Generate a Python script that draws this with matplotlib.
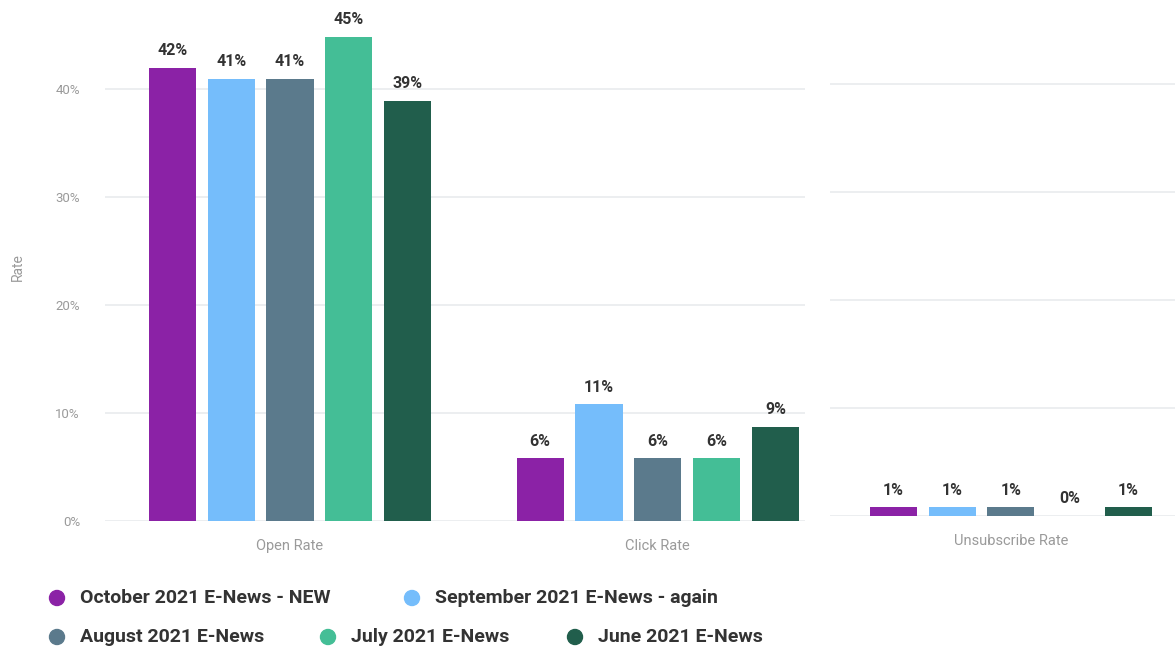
import matplotlib
matplotlib.use("Agg")
import matplotlib.pyplot as plt
import matplotlib.ticker as mticker
import numpy as np

plt.rcParams["font.family"] = ["Roboto", "DejaVu Sans"]

# data (rates in %)
series = ["October 2021 E-News - NEW", "September 2021 E-News - again",
          "August 2021 E-News", "July 2021 E-News", "June 2021 E-News"]
metrics = ["Open Rate", "Click Rate", "Unsubscribe Rate"]
open_rate = [41.9, 40.9, 40.9, 44.8, 38.9]
click_rate = [5.8, 10.8, 5.8, 5.8, 8.7]
unsub_rate = [0.8, 0.8, 0.8, 0.0, 0.8]
rate_labels = [[42, 41, 41, 45, 39], [6, 11, 6, 6, 9], [1, 1, 1, 0, 1]]
y_ticks = [0, 10, 20, 30, 40]

COLORS = ["#8b22a6", "#75bdfb", "#5b7a8c", "#44be96", "#215e4c"]
GRID = "#e9ebee"
TICK = "#9a9a9a"
DARK = "#333333"

W, H = 1175, 654
fig = plt.figure(figsize=(W / 100, H / 100), dpi=100)

# left panel (open + click), right panel (unsubscribe) is slightly offset
ax1 = fig.add_axes([105 / W, (H - 521) / H, 700 / W, 508 / H])
ax2 = fig.add_axes([830 / W, (H - 516) / H, 345 / W, 508 / H])

width = 0.128
step = 0.16
offsets = (np.arange(len(series)) - 2) * step


def draw_group(ax, xpos, values, labels):
    for i, (v, lab) in enumerate(zip(values, labels)):
        ax.bar(xpos + offsets[i], v, width, color=COLORS[i], zorder=3)
        ax.text(xpos + offsets[i], v + 0.9, f"{lab}%", ha="center", va="bottom",
                fontsize=11.5, fontweight="bold", color=DARK, zorder=4)


draw_group(ax1, 0, open_rate, rate_labels[0])
draw_group(ax1, 1, click_rate, rate_labels[1])
draw_group(ax2, 0, unsub_rate, rate_labels[2])

ax1.set_xlim(-0.503, 1.40)
ax2.set_xlim(-0.492, 0.446)
for ax in (ax1, ax2):
    ax.set_ylim(0, 47)
    ax.set_yticks(y_ticks)
    ax.grid(axis="y", color=GRID, linewidth=1.2, zorder=0)
    for s in ax.spines.values():
        s.set_visible(False)
    ax.tick_params(axis="both", length=0, colors=TICK, labelsize=9.5)
    ax.tick_params(axis="x", pad=13, labelsize=10.5)

ax1.set_xticks([0, 1])
ax1.set_xticklabels(metrics[:2])
ax2.set_xticks([0])
ax2.set_xticklabels(metrics[2:])
ax1.yaxis.set_major_formatter(mticker.FuncFormatter(lambda v, _: f"{v:.0f}%"))
ax1.tick_params(axis="y", pad=18)
ax2.tick_params(axis="y", labelleft=False)
ax1.set_ylabel("Rate", color=TICK, fontsize=10, labelpad=22)

# legend, flow layout in two rows
legend_pos = [(57, 598), (412, 598), (57, 637), (328, 637), (575, 637)]
for name, color, (px, py) in zip(series, COLORS, legend_pos):
    fx, fy = px / W, (H - py) / H
    fig.patches.append(matplotlib.patches.Ellipse((fx, fy), 15 / W, 15 / H,
                                                  transform=fig.transFigure,
                                                  color=color))
    fig.text(fx + 23 / W, fy, name, ha="left", va="center", fontsize=14,
             fontweight="bold", color=DARK)

fig.savefig("out.png", dpi=100)
